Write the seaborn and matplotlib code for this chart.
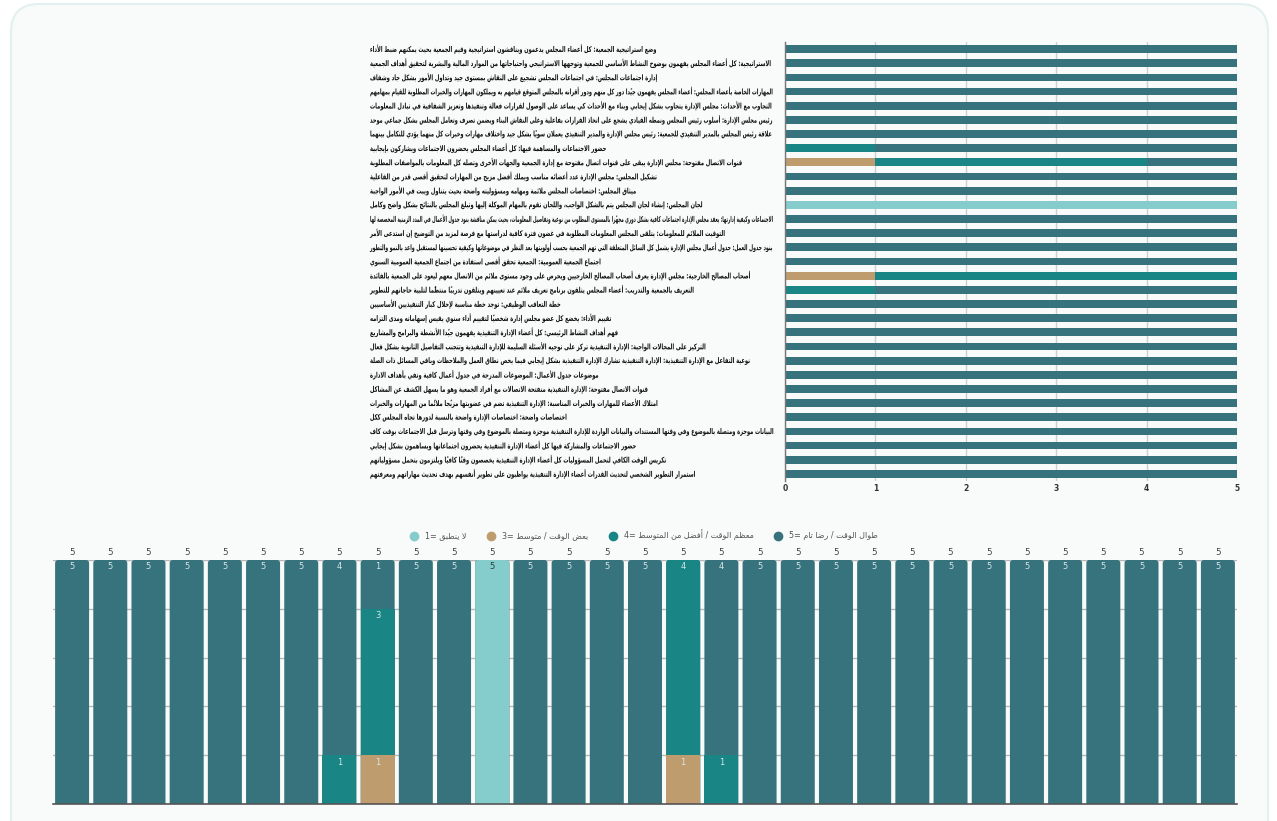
import matplotlib
matplotlib.use("Agg")
import numpy as np
import pandas as pd
import matplotlib.pyplot as plt
import seaborn as sns
from matplotlib import font_manager
from matplotlib.patches import FancyBboxPatch
from matplotlib.lines import Line2D
from matplotlib.patheffects import AbstractPathEffect
from matplotlib.transforms import Affine2D, IdentityTransform, blended_transform_factory


# questions, top to bottom / left to right
questions = [
    "وضع استراتيجية الجمعية: كل أعضاء المجلس يدعمون ويناقشون استراتيجية وقيم الجمعية بحيث يمكنهم ضبط الأداء",
    "الاستراتيجية: كل أعضاء المجلس يفهمون بوضوح النشاط الأساسي للجمعية وتوجهها الاستراتيجي واحتياجاتها من الموارد المالية والبشرية لتحقيق أهداف الجمعية",
    "إدارة اجتماعات المجلس: في اجتماعات المجلس تشجيع على النقاش بمستوى جيد وتداول الأمور بشكل جاد وشفاف",
    "المهارات الخاصة بأعضاء المجلس: أعضاء المجلس يفهمون جيدًا دور كل منهم ودور أقرانه بالمجلس المتوقع قيامهم به ويملكون المهارات والخبرات المطلوبة للقيام بمهامهم",
    "التجاوب مع الأحداث: مجلس الإدارة يتجاوب بشكل إيجابي وبناء مع الأحداث كي يساعد على الوصول لقرارات فعالة وتنفيذها وتعزيز الشفافية في تبادل المعلومات",
    "رئيس مجلس الإدارة: أسلوب رئيس المجلس ونمطه القيادي يشجع على اتخاذ القرارات بفاعلية وعلى النقاش البناء ويضمن تصرف وتعامل المجلس بشكل جماعي موحد",
    "علاقة رئيس المجلس بالمدير التنفيذي للجمعية: رئيس مجلس الإدارة والمدير التنفيذي يعملان سوياً بشكل جيد واختلاف مهارات وخبرات كل منهما يؤدي للتكامل بينهما",
    "حضور الاجتماعات والمساهمة فيها: كل أعضاء المجلس يحضرون الاجتماعات ويشاركون بإيجابية",
    "قنوات الاتصال مفتوحة: مجلس الإدارة يبقى على قنوات اتصال مفتوحة مع إدارة الجمعية والجهات الأخرى وتصله كل المعلومات بالمواصفات المطلوبة",
    "تشكيل المجلس: مجلس الإدارة عدد أعضائه مناسب ويملك أفضل مزيج من المهارات لتحقيق أقصى قدر من الفاعلية",
    "ميثاق المجلس: اختصاصات المجلس ملائمة ومهامه ومسؤوليته واضحة بحيث يتناول ويبت في الأمور الواجبة",
    "لجان المجلس: إنشاء لجان المجلس يتم بالشكل الواجب، واللجان تقوم بالمهام الموكلة إليها وتبلغ المجلس بالنتائج بشكل واضح وكامل",
    "الاجتماعات وكيفية إدارتها: يعقد مجلس الإدارة اجتماعات كافية بشكل دوري مجهزًا بالمستوى المطلوب من نوعية وتفاصيل المعلومات، بحيث يمكن مناقشة بنود جدول الأعمال في المدد الزمنية المخصصة لها",
    "التوقيت الملائم للمعلومات: يتلقى المجلس المعلومات المطلوبة في غضون فترة كافية لدراستها مع فرصة لمزيد من التوضيح إن استدعى الأمر",
    "بنود جدول العمل: جدول أعمال مجلس الإدارة يشمل كل السائل المتعلقة التي تهم الجمعية بحسب أولويتها بعد النظر في موضوعاتها وكيفية تحسينها لمستقبل واعد بالنمو والتطور",
    "اجتماع الجمعية العمومية: الجمعية تحقق أقصى استفادة من اجتماع الجمعية العمومية السنوي",
    "أصحاب المصالح الخارجية: مجلس الإدارة يعرف أصحاب المصالح الخارجيين ويحرص على وجود مستوى ملائم من الاتصال معهم ليعود على الجمعية بالفائدة",
    "التعريف بالجمعية والتدريب: أعضاء المجلس يتلقون برنامج تعريف ملائم عند تعيينهم ويتلقون تدريباً منتظمًا لتلبية حاجاتهم للتطوير",
    "خطة التعاقب الوظيفي: توجد خطة مناسبة لإحلال كبار التنفيذيين الأساسيين",
    "تقييم الأداء: يخضع كل عضو مجلس إدارة شخصياً لتقييم أداء سنوي يقيس إسهاماته ومدى التزامه",
    "فهم أهداف النشاط الرئيسي: كل أعضاء الإدارة التنفيذية يفهمون جيدًا الأنشطة والبرامج والمشاريع",
    "التركيز على المجالات الواجبة: الإدارة التنفيذية تركز على توجيه الأسئلة السليمة للإدارة التنفيذية وتتجنب التفاصيل الثانوية بشكل فعال",
    "نوعية التفاعل مع الإدارة التنفيذية: الإدارة التنفيذية تشارك الإدارة التنفيذية بشكل إيجابي فيما يخص نطاق العمل والملاحظات وباقي المسائل ذات الصلة",
    "موضوعات جدول الأعمال: الموضوعات المدرجة في جدول أعمال كافية وتفي بأهداف الادارة",
    "قنوات الاتصال مفتوحة: الإدارة التنفيذية منفتحة الاتصالات مع أفراد الجمعية وهو ما يسهل الكشف عن المشاكل",
    "امتلاك الأعضاء للمهارات والخبرات المناسبة: الإدارة التنفيذية تضم في عضويتها مزيجًا ملائمًا من المهارات والخبرات",
    "اختصاصات واضحة: اختصاصات الإدارة واضحة بالنسبة لدورها تجاه المجلس ككل",
    "البيانات موجزة ومتصلة بالموضوع وفي وقتها المستندات والبيانات الواردة للإدارة التنفيذية موجزة ومتصلة بالموضوع وفي وقتها وترسل قبل الاجتماعات بوقت كاف",
    "حضور الاجتماعات والمشاركة فيها كل أعضاء الإدارة التنفيذية يحضرون اجتماعاتها ويساهمون بشكل إيجابي",
    "تكريس الوقت الكافي لتحمل المسؤوليات كل أعضاء الإدارة التنفيذية يخصصون وقتاً كافياً ويلتزمون بتحمل مسؤولياتهم",
    "استمرار التطوير الشخصي لتحديث القدرات أعضاء الإدارة التنفيذية يواظبون على تطوير أنفسهم بهدف تحديث مهاراتهم ومعرفتهم",
]

# answer counts per question
n_na = [0, 0, 0, 0, 0, 0, 0, 0, 0, 0, 0, 5, 0, 0, 0, 0,
        0, 0, 0, 0, 0, 0, 0, 0, 0, 0, 0, 0, 0, 0, 0]
n_some = [0, 0, 0, 0, 0, 0, 0, 0, 1, 0, 0, 0, 0, 0, 0, 0,
          1, 0, 0, 0, 0, 0, 0, 0, 0, 0, 0, 0, 0, 0, 0]
n_mostly = [0, 0, 0, 0, 0, 0, 0, 1, 3, 0, 0, 0, 0, 0, 0, 0,
            4, 1, 0, 0, 0, 0, 0, 0, 0, 0, 0, 0, 0, 0, 0]
n_always = [5, 5, 5, 5, 5, 5, 5, 4, 1, 5, 5, 0, 5, 5, 5, 5,
            0, 4, 5, 5, 5, 5, 5, 5, 5, 5, 5, 5, 5, 5, 5]

legend_labels = ["لا ينطبق =1", "بعض الوقت / متوسط =3",
                 "معظم الوقت / أفضل من المتوسط =4", "طوال الوقت / رضا تام =5"]

C1 = "#84cdcc"
C3 = "#bf9c6e"
C4 = "#1a8585"
C5 = "#37737d"


# matplotlib has no arabic shaping / bidi, so do a small version here
AR_FORMS = {
    0x0621: (0xFE80, 1), 0x0622: (0xFE81, 2), 0x0623: (0xFE83, 2), 0x0624: (0xFE85, 2),
    0x0625: (0xFE87, 2), 0x0626: (0xFE89, 4), 0x0627: (0xFE8D, 2), 0x0628: (0xFE8F, 4),
    0x0629: (0xFE93, 2), 0x062A: (0xFE95, 4), 0x062B: (0xFE99, 4), 0x062C: (0xFE9D, 4),
    0x062D: (0xFEA1, 4), 0x062E: (0xFEA5, 4), 0x062F: (0xFEA9, 2), 0x0630: (0xFEAB, 2),
    0x0631: (0xFEAD, 2), 0x0632: (0xFEAF, 2), 0x0633: (0xFEB1, 4), 0x0634: (0xFEB5, 4),
    0x0635: (0xFEB9, 4), 0x0636: (0xFEBD, 4), 0x0637: (0xFEC1, 4), 0x0638: (0xFEC5, 4),
    0x0639: (0xFEC9, 4), 0x063A: (0xFECD, 4), 0x0641: (0xFED1, 4), 0x0642: (0xFED5, 4),
    0x0643: (0xFED9, 4), 0x0644: (0xFEDD, 4), 0x0645: (0xFEE1, 4), 0x0646: (0xFEE5, 4),
    0x0647: (0xFEE9, 4), 0x0648: (0xFEED, 2), 0x0649: (0xFEEF, 2), 0x064A: (0xFEF1, 4),
}
LAM_ALEF = {0x0622: 0xFEF5, 0x0623: 0xFEF7, 0x0625: 0xFEF9, 0x0627: 0xFEFB}
MARKS = set(range(0x064B, 0x0653))


def ar(text):
    items = []  # [base glyph, n forms, marks]
    i = 0
    while i < len(text):
        c = ord(text[i])
        if c in MARKS and items:
            items[-1][2] += text[i]
            i += 1
            continue
        if c == 0x0644 and i + 1 < len(text) and ord(text[i + 1]) in LAM_ALEF:
            items.append([LAM_ALEF[ord(text[i + 1])], 2, ""])
            i += 2
            continue
        if c in AR_FORMS:
            items.append([AR_FORMS[c][0], AR_FORMS[c][1], ""])
        else:
            items.append([text[i], 0, ""])
        i += 1

    clusters = []
    for k, (b, n, m) in enumerate(items):
        if n == 0:
            clusters.append(b + m)
            continue
        pj = k > 0 and items[k - 1][1] == 4
        nj = n == 4 and k + 1 < len(items) and items[k + 1][1] >= 2
        if pj and nj:
            g = b + 3
        elif pj:
            g = b + 1
        elif nj:
            g = b + 2
        else:
            g = b
        clusters.append(chr(g) + m)

    runs = []
    for c in clusters:
        ltr = c[0].isascii() and c[0].isalnum()
        if runs and runs[-1][0] == ltr:
            runs[-1][1].append(c)
        else:
            runs.append([ltr, [c]])
    out = ""
    for ltr, cl in reversed(runs):
        out += "".join(cl if ltr else reversed(cl))
    return out


class Squeeze(AbstractPathEffect):
    # narrows the glyphs horizontally around x0 (display px), like canvas maxWidth
    def __init__(self, sx, x0):
        super().__init__()
        self.sx = sx
        self.x0 = x0

    def draw_path(self, renderer, gc, tpath, affine, rgbFace=None):
        squeeze = Affine2D().translate(-self.x0, 0).scale(self.sx, 1).translate(self.x0, 0)
        renderer.draw_path(gc, tpath, affine + squeeze, rgbFace)


df = pd.DataFrame({"q": np.arange(len(questions)), "na": n_na, "some": n_some,
                   "mostly": n_mostly, "always": n_always})
df["c1"] = df["na"]
df["c3"] = df["c1"] + df["some"]
df["c4"] = df["c3"] + df["mostly"]
df["c5"] = df["c4"] + df["always"]
layers = [("c5", C5), ("c4", C4), ("c3", C3), ("c1", C1)]

sns.set_style("white")
plt.rcParams["font.family"] = ["DejaVu Sans"]
installed = {f.name for f in font_manager.fontManager.ttflist}
label_family = ["DejaVu Sans Condensed", "DejaVu Sans"] if "DejaVu Sans Condensed" in installed else ["DejaVu Sans"]

W, H = 1277, 821
fig = plt.figure(figsize=(W / 100, H / 100), dpi=100)
fig.patch.set_facecolor("white")

card = FancyBboxPatch((11, -40), 1257, 857, boxstyle="round,pad=0,rounding_size=28",
                      transform=IdentityTransform(), facecolor="#f9fafa",
                      edgecolor="#e2f0f0", linewidth=1.5, zorder=0)
fig.add_artist(card)

# ---- top chart: horizontal stacked bars ----
ax1 = fig.add_axes([785 / W, 1 - 481 / H, 452 / W, 439 / H])
ax1.set_facecolor("none")
for k, (col, color) in enumerate(layers):
    sns.barplot(data=df, y="q", x=col, orient="h", color=color, saturation=1,
                width=0.55, linewidth=0, errorbar=None, ax=ax1, zorder=2 + k * 0.1)
ax1.set_xlim(0, 5)
ax1.set_ylim(len(questions) - 0.5, -0.5)
ax1.set_xticks(range(6))
ax1.set_xticklabels([str(v) for v in range(6)], fontsize=5.5, fontweight="bold", color="#333333")
ax1.set_yticks([])
ax1.set_xlabel("")
ax1.set_ylabel("")
ax1.tick_params(axis="x", length=0, pad=2)
ax1.xaxis.grid(True, color="#cfcfcf", linewidth=1)
ax1.set_axisbelow(True)
for s in ["top", "right", "bottom"]:
    ax1.spines[s].set_visible(False)
ax1.spines["left"].set_color("#777777")
ax1.spines["left"].set_linewidth(1)

renderer = fig.canvas.get_renderer()
lab_tr = blended_transform_factory(fig.transFigure, ax1.transData)
lab_x = 370
max_w = 406
lab_fs = 5.6
base_squeeze = 0.66
for i, q in enumerate(questions):
    t = ax1.text(lab_x / W, i, ar(q), transform=lab_tr, ha="left", va="center",
                 fontsize=lab_fs, fontweight="bold", color="#111111", family=label_family)
    w = t.get_window_extent(renderer).width
    t.set_path_effects([Squeeze(min(base_squeeze, max_w / w), lab_x)])

# ---- legend ----
handles = [Line2D([], [], marker="o", ls="", markersize=6, markerfacecolor=c, markeredgecolor=c)
           for c in [C1, C3, C4, C5]]
fig.legend(handles, [ar(s) for s in legend_labels], loc="center", ncol=4,
           bbox_to_anchor=(642 / W, 1 - 535 / H), frameon=False, fontsize=5.8,
           labelcolor="#555555", handletextpad=0.4, columnspacing=2.0, borderaxespad=0)

# ---- bottom chart: vertical stacked bars ----
ax2 = fig.add_axes([53 / W, 1 - 804 / H, 1184 / W, 244 / H])
ax2.set_facecolor("none")
for k, (col, color) in enumerate(layers):
    sns.barplot(data=df, x="q", y=col, color=color, saturation=1, width=0.89,
                linewidth=0, errorbar=None, ax=ax2, zorder=2 + k * 0.1)

# rounded tops for the segments that reach the column total
totals = df["c5"].to_numpy()
for p in list(ax2.patches):
    x, w, h = p.get_x(), p.get_width(), p.get_height()
    col_i = int(round(x + w / 2))
    if h > 0 and abs(h - totals[col_i]) < 1e-9:
        rp = FancyBboxPatch((x, -0.3), w, h + 0.3, boxstyle="round,pad=0,rounding_size=0.08",
                            mutation_aspect=0.78, facecolor=p.get_facecolor(),
                            edgecolor="none", zorder=p.get_zorder())
        p.remove()
        ax2.add_patch(rp)

ax2.set_xlim(-0.5, len(questions) - 0.5)
ax2.set_ylim(0, 5)
ax2.set_xticks([])
ax2.set_yticks(range(6))
ax2.set_yticklabels([])
ax2.tick_params(length=0)
ax2.set_xlabel("")
ax2.set_ylabel("")
ax2.yaxis.grid(True, color="#b8b8b8", linewidth=1)
ax2.set_axisbelow(True)
for s in ["top", "right", "left"]:
    ax2.spines[s].set_visible(False)
ax2.spines["bottom"].set_color("#555555")
ax2.spines["bottom"].set_linewidth(1.2)

for i, row in df.iterrows():
    base = 0
    for cnt, color in [(row["na"], C1), (row["some"], C3), (row["mostly"], C4), (row["always"], C5)]:
        if cnt > 0:
            top = base + cnt
            tc = "#2d3b3d" if color == C1 else "#d6e6e8"
            ax2.text(i, top - 0.05, str(int(cnt)), ha="center", va="top", fontsize=6,
                     color=tc, zorder=5)
            base = top
    ax2.text(i, row["c5"] + 0.07, str(int(row["c5"])), ha="center", va="bottom",
             fontsize=6.3, color="#444444")

fig.savefig("out.png", dpi=100, facecolor=fig.get_facecolor())
